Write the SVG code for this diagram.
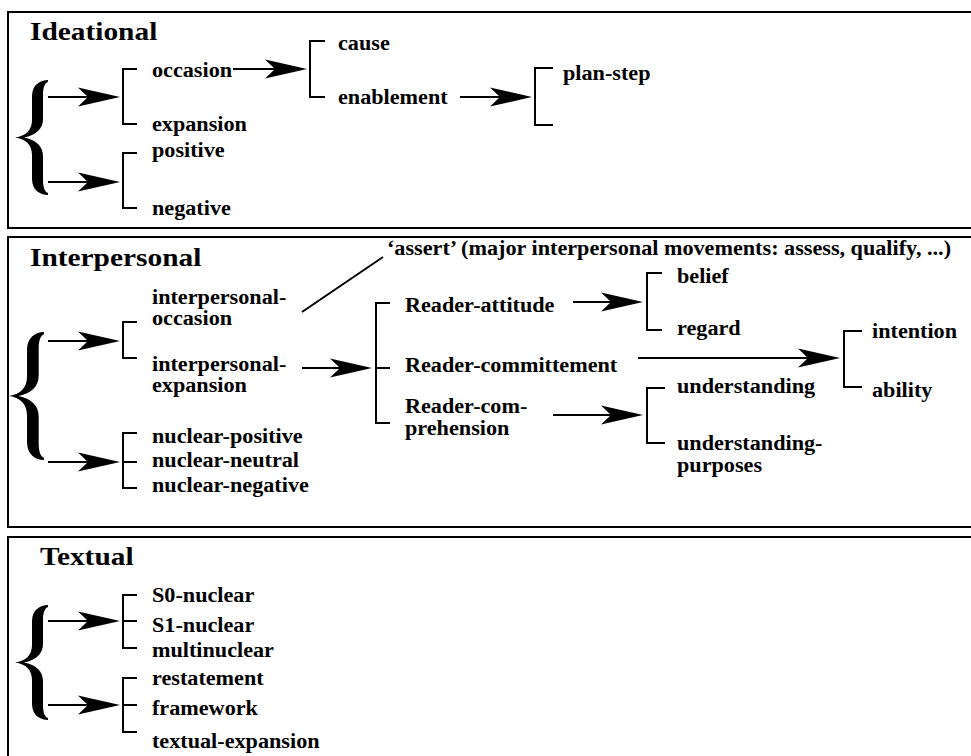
<svg xmlns="http://www.w3.org/2000/svg" width="971" height="756" viewBox="0 0 971 756">
  <style>
    text { font-family: "Liberation Serif", "Times New Roman", serif; font-weight: bold; fill: #000;
           transform-box: fill-box; transform-origin: left; transform: scaleX(1.11); }
    .lbl { font-size: 20px; }
    .title { font-size: 26px; transform: scaleX(1.13); }
    .box { fill: none; stroke: #000; stroke-width: 2; }
    .br { fill: none; stroke: #000; stroke-width: 2; }
    .con { fill: none; stroke: #000; stroke-width: 2; }
    .arr { marker-end: url(#head); }
  </style>
  <defs>
    <!-- swept-back arrowhead; the line ends inside the solid part of the head -->
    <marker id="head" markerUnits="userSpaceOnUse" viewBox="-44 -10 46 20" markerWidth="46" markerHeight="20" refX="-28" refY="0" orient="auto" overflow="visible">
      <path d="M0,0 L-42,-9.5 L-32,0 L-42,9.5 Z" fill="#000"/>
    </marker>
    <!-- curly brace, 33 wide, 115 tall, point on the left -->
    <path id="brace" d="M33,0 C25,0 17,5 17,16 L17,40 C17,50 11,56 0,57.5 C11,59 17,65 17,75 L17,99 C17,110 25,115 33,115 L33,113 C30,112 28,108 28,100 L28,76 C28,66 21,60 9,57.5 C21,55 28,49 28,39 L28,15 C28,7 30,3 33,2 Z" fill="#000"/>
  </defs>

  <!-- section frames -->
  <g id="frames">
    <rect class="box" x="8" y="12" width="980" height="216"/>
    <rect class="box" x="8" y="237" width="980" height="290"/>
    <rect class="box" x="8" y="537" width="980" height="240"/>
  </g>

  <!-- Ideational -->
  <g id="ideational-title"><text class="title" x="30" y="40">Ideational</text></g>
  <g id="ideational-brace"><use href="#brace" transform="translate(15,80)"/></g>
  <g id="occasion-expansion">
    <path class="br" d="M137,69 H123 V124 H137"/>
    <text class="lbl" x="152" y="77">occasion</text>
    <text class="lbl" x="152" y="131">expansion</text>
  </g>
  <g id="positive-negative">
    <path class="br" d="M137,153 H123 V208 H137"/>
    <text class="lbl" x="152" y="157">positive</text>
    <text class="lbl" x="152" y="215">negative</text>
  </g>
  <g id="cause-enablement">
    <path class="br" d="M325,41 H310 V97 H325"/>
    <text class="lbl" x="338" y="50">cause</text>
    <text class="lbl" x="338" y="104">enablement</text>
  </g>
  <g id="plan-step">
    <path class="br" d="M553,68 H535 V125 H553"/>
    <text class="lbl" x="563" y="80">plan-step</text>
  </g>

  <!-- Interpersonal -->
  <g id="interpersonal-title"><text class="title" x="30" y="266">Interpersonal</text></g>
  <g id="interpersonal-brace"><use href="#brace" transform="translate(9,332) scale(1.06,1.113)"/></g>
  <g id="interpersonal-occasion-expansion">
    <path class="br" d="M137,322 H123 V358 H137"/>
    <text class="lbl" x="152" y="304">interpersonal-</text>
    <text class="lbl" x="152" y="325">occasion</text>
    <text class="lbl" x="152" y="371">interpersonal-</text>
    <text class="lbl" x="152" y="392">expansion</text>
  </g>
  <g id="nuclear">
    <path class="br" d="M137,433 H123 V488 H137 M123,462 H137"/>
    <text class="lbl" x="152" y="443">nuclear-positive</text>
    <text class="lbl" x="152" y="467">nuclear-neutral</text>
    <text class="lbl" x="152" y="492">nuclear-negative</text>
  </g>
  <g id="assert">
    <text class="lbl" x="387" y="255">‘assert’ (major interpersonal movements: assess, qualify, ...)</text>
  </g>
  <g id="reader">
    <path class="br" d="M390,303 H376 V423 H390 M376,368 H390"/>
    <text class="lbl" x="405" y="312">Reader-attitude</text>
    <text class="lbl" x="405" y="372">Reader-committement</text>
    <text class="lbl" x="405" y="413">Reader-com-</text>
    <text class="lbl" x="405" y="435">prehension</text>
  </g>
  <g id="belief-regard">
    <path class="br" d="M662,273 H647 V330 H662"/>
    <text class="lbl" x="677" y="283">belief</text>
    <text class="lbl" x="677" y="335">regard</text>
  </g>
  <g id="intention-ability">
    <path class="br" d="M862,331 H844 V387 H862"/>
    <text class="lbl" x="872" y="338">intention</text>
    <text class="lbl" x="872" y="397">ability</text>
  </g>
  <g id="understanding">
    <path class="br" d="M665,388 H647 V443 H665"/>
    <text class="lbl" x="677" y="393">understanding</text>
    <text class="lbl" x="677" y="450">understanding-</text>
    <text class="lbl" x="677" y="472">purposes</text>
  </g>

  <!-- Textual -->
  <g id="textual-title"><text class="title" x="40" y="565">Textual</text></g>
  <g id="textual-brace"><use href="#brace" transform="translate(15,605)"/></g>
  <g id="nuclearity">
    <path class="br" d="M137,595 H123 V648 H137 M123,621 H137"/>
    <text class="lbl" x="152" y="602">S0-nuclear</text>
    <text class="lbl" x="152" y="632">S1-nuclear</text>
    <text class="lbl" x="152" y="657">multinuclear</text>
  </g>
  <g id="textual-kinds">
    <path class="br" d="M137,678 H123 V732 H137 M123,705 H137"/>
    <text class="lbl" x="152" y="685">restatement</text>
    <text class="lbl" x="152" y="715">framework</text>
    <text class="lbl" x="152" y="748">textual-expansion</text>
  </g>

  <!-- connectors: each line ends 28px short of its arrow tip -->
  <g id="connectors">
    <line class="con arr" x1="48" y1="97" x2="92" y2="97"/>
    <line class="con arr" x1="48" y1="182" x2="92" y2="182"/>
    <line class="con arr" x1="233" y1="69" x2="279" y2="69"/>
    <line class="con arr" x1="460" y1="97" x2="504" y2="97"/>

    <line class="con arr" x1="48" y1="341" x2="92" y2="341"/>
    <line class="con arr" x1="48" y1="462" x2="92" y2="462"/>
    <line class="con arr" x1="302" y1="368" x2="344" y2="368"/>
    <line class="con arr" x1="573" y1="302" x2="615" y2="302"/>
    <line class="con arr" x1="638" y1="358" x2="812" y2="358"/>
    <line class="con arr" x1="553" y1="415" x2="615" y2="415"/>
    <line class="con" x1="302" y1="312" x2="383" y2="257"/>

    <line class="con arr" x1="48" y1="621" x2="92" y2="621"/>
    <line class="con arr" x1="48" y1="705" x2="92" y2="705"/>
  </g>
</svg>
